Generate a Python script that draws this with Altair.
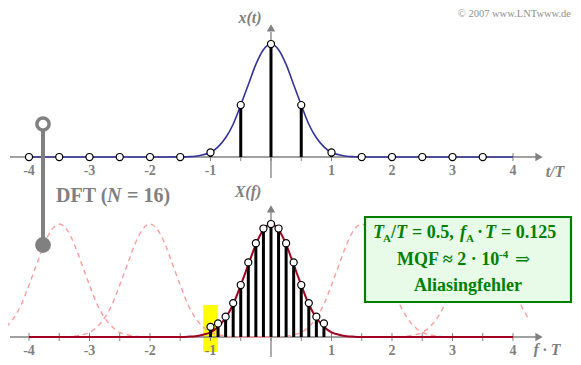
import altair as alt
import pandas as pd

# ---------------- values ----------------
t_samples = [-4, -3.5, -3, -2.5, -2, -1.5, -1, -0.5, 0, 0.5, 1, 1.5, 2, 2.5, 3, 3.5]
x_samples = [0, 0, 0, 0, 0, 0, 0.04, 0.46, 1.0, 0.46, 0.04, 0, 0, 0, 0, 0]

f_samples = [-1, -0.875, -0.75, -0.625, -0.5, -0.375, -0.25, -0.125,
             0, 0.125, 0.25, 0.375, 0.5, 0.625, 0.75, 0.875]
X_samples = [0.09, 0.12, 0.18, 0.30, 0.46, 0.66, 0.83, 0.96,
             1.0, 0.96, 0.83, 0.66, 0.46, 0.30, 0.18, 0.12]

# half profile of the bell-shaped curves x(t) and X(f)
half_u = [0, 0.125, 0.25, 0.375, 0.5, 0.625, 0.75, 0.875, 1.0, 1.125, 1.25, 1.375, 1.5, 1.75, 2.0]
half_v = [1.0, 0.95, 0.82, 0.64, 0.46, 0.29, 0.17, 0.09, 0.04, 0.02, 0.007, 0.003, 0.001, 0.0, 0.0]

# centres of the dashed periodic repetitions
alias_centres = [-3.5, -2.0, 1.5, 3.5]

tick_pos = [-4, -3.5, -3, -2.5, -2, -1.5, -1, -0.5, 0, 0.5, 1, 1.5, 2, 2.5, 3, 3.5, 4]
label_pos = [-4, -3, -2, -1, 1, 2, 3, 4]
label_txt = ["-4", "-3", "-2", "-1", "1", "2", "3", "4"]

# ---------------- layout ----------------
W, H = 565, 349
XDOM = [-4.347, 4.992]
YDOM = [-0.177, 2.912]
U = 1.593          # baseline of the upper panel in y units
GRAY = "#808080"
BLUE = "#33339a"
RED = "#a0001e"
PINK = "#ff9c9c"
GREEN = "#008000"
SERIF = "Liberation Serif"

xs = alt.Scale(domain=XDOM, nice=False, zero=False)
ys = alt.Scale(domain=YDOM, nice=False, zero=False)


def X(field="x"):
    return alt.X(f"{field}:Q", scale=xs, axis=None)


def Y(field="y"):
    return alt.Y(f"{field}:Q", scale=ys, axis=None)


u_full = [-u for u in reversed(half_u[1:])] + half_u
v_full = list(reversed(half_v[1:])) + half_v
curve_x = [-4] + u_full + [4]
curve_v = [0] + v_full + [0]

df_top_curve = pd.DataFrame({"x": curve_x, "y": [v + U for v in curve_v]})
df_bot_curve = pd.DataFrame({"x": curve_x, "y": curve_v})

rows = []
for c in alias_centres:
    for u, v in zip(u_full, v_full):
        if -4.4 <= c + u <= 4.3:
            rows.append({"c": c, "x": c + u, "y": v})
df_alias = pd.DataFrame(rows)

df_top_s = pd.DataFrame({"x": t_samples, "y0": [U] * len(t_samples),
                         "y": [v + U for v in x_samples]})
df_bot_s = pd.DataFrame({"x": f_samples, "y0": [0] * len(f_samples), "y": X_samples})

dummy = pd.DataFrame({"a": [0]})

layers = []

# yellow highlight of the f = -1 sample
df_yel = pd.DataFrame({"x": [-1.12], "x2": [-0.88], "y": [-0.133], "y2": [0.283]})
layers.append(alt.Chart(df_yel).mark_rect(color="#ffff00").encode(
    x=X(), x2="x2", y=Y(), y2="y2"))

# axes of both panels
for base in (U, 0.0):
    df_h = pd.DataFrame({"x": [-4.314], "x2": [4.40], "y": [base]})
    layers.append(alt.Chart(df_h).mark_rule(color=GRAY, strokeWidth=1.3).encode(
        x=X(), x2="x2", y=Y()))
    df_ar = pd.DataFrame({"x": [4.43], "y": [base]})
    layers.append(alt.Chart(df_ar).mark_point(shape="triangle-right", filled=True, size=70,
                                              color=GRAY, opacity=1).encode(x=X(), y=Y()))
    df_tk = pd.DataFrame({"x": tick_pos, "y": [base - 0.035] * len(tick_pos),
                          "y2": [base + 0.035] * len(tick_pos)})
    layers.append(alt.Chart(df_tk).mark_rule(color=GRAY, strokeWidth=1).encode(
        x=X(), y=Y(), y2="y2"))
    df_lb = pd.DataFrame({"x": label_pos, "y": [base] * len(label_pos), "t": label_txt})
    layers.append(alt.Chart(df_lb).mark_text(font=SERIF, fontSize=14, fontWeight="bold",
                                             color=GRAY, dy=14, baseline="middle").encode(
        x=X(), y=Y(), text="t:N"))

# vertical axes
df_v = pd.DataFrame({"x": [0, 0], "y": [1.407, -0.177], "y2": [2.70, 1.11]})
layers.append(alt.Chart(df_v).mark_rule(color=GRAY, strokeWidth=1.3).encode(
    x=X(), y=Y(), y2="y2"))
df_va = pd.DataFrame({"x": [0, 0], "y": [2.735, 1.135]})
layers.append(alt.Chart(df_va).mark_point(shape="triangle-up", filled=True, size=70,
                                          color=GRAY, opacity=1).encode(x=X(), y=Y()))

# dashed periodic repetitions
layers.append(alt.Chart(df_alias).mark_line(color=PINK, strokeWidth=1.4, strokeDash=[5, 4],
                                            interpolate="monotone", clip=True).encode(
    x=X(), y=Y(), detail="c:N"))

# continuous curves
layers.append(alt.Chart(df_top_curve).mark_line(color=BLUE, strokeWidth=1.6,
                                                interpolate="monotone").encode(x=X(), y=Y()))
layers.append(alt.Chart(df_bot_curve).mark_line(color=RED, strokeWidth=2,
                                                interpolate="monotone").encode(x=X(), y=Y()))

# stems and sample circles
for df in (df_top_s, df_bot_s):
    layers.append(alt.Chart(df).mark_rule(color="black", strokeWidth=3).encode(
        x=X(), y=Y("y0"), y2="y"))
    layers.append(alt.Chart(df).mark_point(shape="circle", filled=True, fill="white",
                                           stroke="black", strokeWidth=1.2, size=50,
                                           opacity=1).encode(x=X(), y=Y()))

# green info box
layers.append(alt.Chart(dummy).mark_rect(fill="#e8fae8", stroke=GREEN, strokeWidth=2.2).encode(
    x=alt.value(357), x2=alt.value(563), y=alt.value(209), y2=alt.value(294)))


def txt(s, x, y, size=18, style="normal", weight="bold", color=GREEN, align="left",
        baseline="alphabetic", font=SERIF):
    return alt.Chart(dummy).mark_text(text=s, font=font, fontSize=size, fontStyle=style,
                                      fontWeight=weight, color=color, align=align,
                                      baseline=baseline).encode(
        x=alt.value(x), y=alt.value(y))


# box line 1: T_A/T = 0.5, f_A · T = 0.125  (page coords minus 8)
b1 = 237.5 - 8
for s, px, sty, sub in [("T", 373, "italic", False), ("A", 383, "normal", True),
                        ("/", 391, "normal", False), ("T", 396, "italic", False),
                        ("= 0.5,", 412, "normal", False), ("f", 460, "italic", False),
                        ("A", 466, "normal", True), ("·", 477, "normal", False),
                        ("T", 485, "italic", False), ("= 0.125", 501, "normal", False)]:
    if sub:
        layers.append(txt(s, px - 8, b1 + 4, size=11, style=sty))
    else:
        layers.append(txt(s, px - 8, b1, size=18, style=sty))

# box line 2: MQF ≈ 2 · 10^-4 ⇒
b2 = 265 - 8
layers.append(txt("MQF ≈ 2 · 10", 397 - 8, b2, size=18))
layers.append(txt("-4", 499 - 8, b2 - 7, size=11))
layers.append(txt("⇒", 515 - 8, b2, size=18, weight="normal", font="DejaVu Serif"))
# box line 3
layers.append(txt("Aliasingfehler", 468 - 8, 291 - 8, size=18, align="center"))

# axis titles
layers.append(txt("x(t)", 250 - 8, 18 - 8, size=16, style="italic", color=GRAY,
                  align="center", baseline="middle"))
layers.append(txt("X(f)", 248 - 8, 192 - 8, size=16, style="italic", color=GRAY,
                  align="center", baseline="middle"))
layers.append(txt("t/T", 555 - 8, 172 - 8, size=16, style="italic", color=GRAY,
                  align="center", baseline="middle"))
layers.append(txt("f · T", 547 - 8, 350 - 8, size=16, style="italic", color=GRAY,
                  align="center", baseline="middle"))

# copyright
layers.append(txt("© 2007 www.LNTwww.de", 571 - 8, 17 - 8, size=10.5, weight="normal",
                  color="#909090", align="right"))

# DFT lollipop
layers.append(alt.Chart(dummy).mark_rule(color=GRAY, strokeWidth=4).encode(
    x=alt.value(43 - 8), y=alt.value(123 - 8), y2=alt.value(245 - 8)))
layers.append(alt.Chart(dummy).mark_point(shape="circle", filled=True, fill="white",
                                          stroke=GRAY, strokeWidth=3.5, size=150,
                                          opacity=1).encode(
    x=alt.value(43 - 8), y=alt.value(124 - 8)))
layers.append(alt.Chart(dummy).mark_point(shape="circle", filled=True, fill=GRAY, size=250,
                                          opacity=1).encode(
    x=alt.value(43 - 8), y=alt.value(245 - 8)))
layers.append(txt("DFT (", 56 - 8, 202 - 8, size=20, color=GRAY))
layers.append(txt("N", 107 - 8, 202 - 8, size=20, color=GRAY, style="italic"))
layers.append(txt("= 16)", 127 - 8, 202 - 8, size=20, color=GRAY))

chart = alt.layer(*layers).properties(
    width=W, height=H, padding=0, autosize=alt.AutoSizeParams(type="none"),
    background="white"
).configure_view(stroke=None)

chart.save("out.html", embed_options={"renderer": "svg", "actions": False})
